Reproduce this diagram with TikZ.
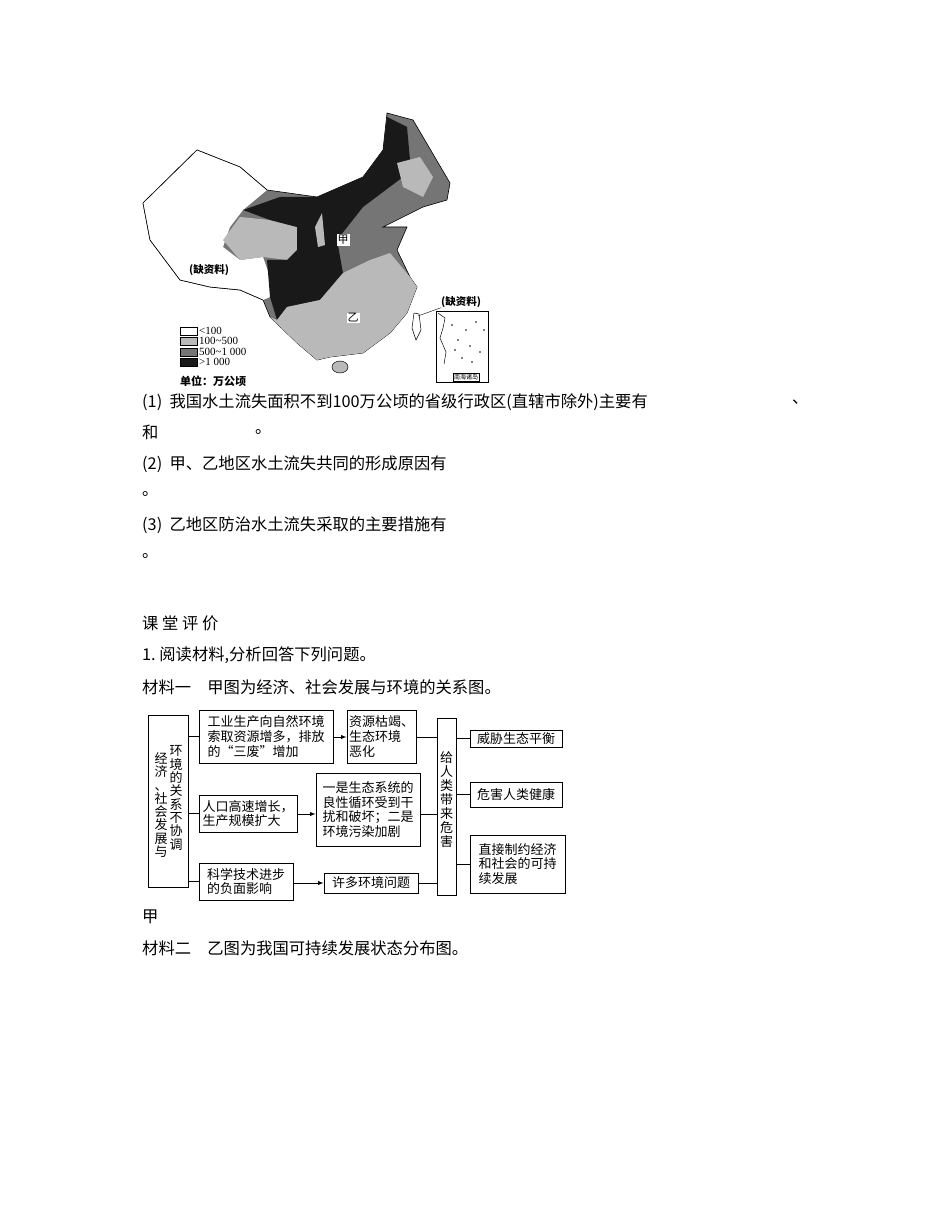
\documentclass[tikz,border=0pt]{standalone}
\usepackage{fontspec}
\setmainfont{Noto Sans CJK SC}
\newfontfamily\lat{Liberation Serif}
\begin{document}
\begin{tikzpicture}[x=1pt,y=-1pt,
 bx/.style={draw,line width=0.9pt,inner sep=0pt,font=\fontsize{13}{14.8}\selectfont},
 ln/.style={line width=0.9pt},
 ar/.style={line width=0.9pt,-latex},
 tx/.style={anchor=west,inner sep=0pt,font=\fontsize{16.3}{17}\selectfont},
 lg/.style={anchor=west,inner sep=0pt,font=\lat\fontsize{11}{11}\selectfont}]
\useasboundingbox[fill=white] (0,0) rectangle (950,1230);
% ---- map ----
\draw[fill=gray!65!black!80,line width=0.6pt] (143,203)--(197,150)--(240,167)--(267,190)--(317,197)--(363,177)--(383,150)--(387,113)--(413,120)--(450,183)--(447,200)--(423,207)--(403,217)--(383,227)--(407,227)--(397,250)--(410,277)--(417,287)--(407,313)--(390,333)--(363,353)--(330,357)--(317,360)--(297,343)--(270,317)--(263,300)--(240,290)--(210,287)--(180,280)--(150,240)--cycle;
\fill[white] (143,203)--(197,150)--(240,167)--(267,190)--(243,210)--(230,227)--(223,247)--(240,260)--(263,257)--(270,277)--(270,297)--(263,300)--(240,290)--(210,287)--(180,280)--(150,240)--cycle;
\draw[line width=0.6pt] (143,203)--(197,150)--(240,167)--(267,190) (263,300)--(240,290)--(210,287)--(180,280)--(150,240)--(143,203);
\fill[gray!55] (223,240)--(240,217)--(270,220)--(297,227)--(297,250)--(287,260)--(263,257)--(240,260)--cycle;
\fill[gray!20!black] (243,210)--(280,197)--(317,197)--(363,177)--(383,150)--(387,117)--(407,127)--(410,160)--(403,177)--(363,207)--(337,240)--(343,273)--(320,300)--(287,307)--(277,320)--(270,297)--(267,260)--(287,260)--(297,250)--(297,227)--(270,220)--cycle;
\fill[gray!55] (277,320)--(287,307)--(320,300)--(343,273)--(370,260)--(390,253)--(410,277)--(417,287)--(407,313)--(390,333)--(363,353)--(330,357)--(317,360)--(297,343)--(270,317)--cycle;
\fill[gray!55] (397,163)--(420,157)--(433,177)--(423,197)--(403,187)--cycle;
\fill[gray!55] (315,227)--(322,213)--(325,245)--(318,247)--cycle;
\draw[fill=gray!55,line width=0.5pt] (340,367) ellipse (8 and 6);
\draw[line width=0.5pt] (414,313)--(419,314)--(421,330)--(416,340)--(412,328)--cycle;
\node[inner sep=1pt,fill=white,font=\fontsize{11}{11}\selectfont] (jia) at (343,240) {甲};
\node[inner sep=1pt,fill=white,font=\fontsize{11}{11}\selectfont] (yi) at (353,318) {乙};
\node[inner sep=0pt,font=\fontsize{10.5}{11}\bfseries\selectfont] (q1) at (209,270) {(缺资料)};
\node[inner sep=0pt,font=\fontsize{10.5}{11}\bfseries\selectfont] (q2) at (461,302) {(缺资料)};
\draw[line width=0.4pt] (q2.south west)--(418,316);
\draw[line width=1pt] (436,311) rectangle (488,382);
\node[draw,inner sep=1pt,font=\fontsize{6}{6}\selectfont] (nh) at (466,377) {南海诸岛};
\draw[line width=0.5pt] (438,313)--(445,318)--(443,328)--(440,338)--(446,352)--(444,364);
\foreach \p in {(452,325),(458,340),(466,330),(470,346),(476,322),(484,330),(480,352),(462,358),(472,362),(455,350)} \fill \p circle (0.8);
\foreach \y/\c/\t in {331/white/{<100},341/gray!55/{100\textasciitilde500},352/gray!65!black!80/{500\textasciitilde1 000},362/gray!20!black/{>1 000}}{
 \draw[fill=\c,line width=0.5pt] (180,\y-4) rectangle (197,\y+4);
 \node[lg] at (199,\y) {\t};}
\node[tx,font=\fontsize{11}{11}\bfseries\selectfont] (unit) at (180,381) {单位：万公顷};
% ---- text ----
\node[tx] (t1) at (142,402) {(1)\ \ 我国水土流失面积不到100万公顷的省级行政区(直辖市除外)主要有};
\node[tx] (t1b) at (792,402) {、};
\node[tx] (t2) at (142,432) {和};
\node[tx] (t2b) at (255,432) {。};
\node[tx] (t3) at (142,464) {(2)\ \ 甲、乙地区水土流失共同的形成原因有};
\node[tx] (t4) at (142,494) {。};
\node[tx] (t5) at (142,525) {(3)\ \ 乙地区防治水土流失采取的主要措施有};
\node[tx] (t6) at (142,556) {。};
\node[tx] (t7) at (142,623) {课\ 堂\ 评\ 价};
\node[tx] (t8) at (142,655) {1.\ 阅读材料,分析回答下列问题。};
\node[tx] (t9) at (142,687) {材料一\quad 甲图为经济、社会发展与环境的关系图。};
\node[tx] (t10) at (142,917) {甲};
\node[tx] (t11) at (142,948) {材料二\quad 乙图为我国可持续发展状态分布图。};
% ---- flowchart ----
\node[bx,minimum width=40,minimum height=172] (L) at (168,801) {};
\node[align=center,inner sep=0pt,font=\fontsize{13}{13.3}\selectfont] (Lc1) at (161,805) {经\\济\\、\\社\\会\\发\\展\\与};
\node[align=center,inner sep=0pt,font=\fontsize{13}{13.3}\selectfont] (Lc2) at (176,798) {环\\境\\的\\关\\系\\不\\协\\调};
\node[bx,minimum width=134,minimum height=53,align=left] (A1) at (266,736.5) {工业生产向自然环境\\索取资源增多，排放\\的“三废”增加};
\node[bx,minimum width=69,minimum height=53,align=left] (A2) at (381.5,736.5) {资源枯竭、\\生态环境\\恶化};
\node[bx,minimum width=98,minimum height=37,align=left] (B1) at (248,813.5) {人口高速增长，\\生产规模扩大};
\node[bx,minimum width=104,minimum height=73,align=left] (B2) at (368,809.5) {一是生态系统的\\良性循环受到干\\扰和破坏；二是\\环境污染加剧};
\node[bx,minimum width=94,minimum height=37,align=left] (C1) at (246,881.5) {科学技术进步\\的负面影响};
\node[bx,minimum width=94,minimum height=20] (C2) at (371,883) {许多环境问题};
\node[bx,minimum width=19,minimum height=177] (M) at (446.5,806.5) {};
\node[align=center,inner sep=0pt,font=\fontsize{13}{14}\selectfont] (Mt) at (446.5,800) {给\\人\\类\\带\\来\\危\\害};
\node[bx,minimum width=92,minimum height=17] (R1) at (516,738.5) {威胁生态平衡};
\node[bx,minimum width=92,minimum height=25] (R2) at (516,794.5) {危害人类健康};
\node[bx,minimum width=95,minimum height=58,align=left] (R3) at (517.5,864) {直接制约经济\\和社会的可持\\续发展};
\draw[ln] (L.east|-A1)--(A1.west);
\draw[ln] (L.east|-B1)--(B1.west);
\draw[ln] (L.east|-C1)--(C1.west);
\draw[ar] (A1.east|-0,737)--(A2.west|-0,737);
\draw[ar] (B1.east|-0,814)--(B2.west|-0,814);
\draw[ar] (C1.east|-0,883)--(C2.west);
\draw[ln] (A2.east|-0,737)--(M.west|-0,737);
\draw[ln] (B2.east|-0,814)--(M.west|-0,814);
\draw[ln] (C2.east)--(M.west|-C2);
\draw[ln] (M.east|-R1)--(R1.west);
\draw[ln] (M.east|-R2)--(R2.west);
\draw[ln] (M.east|-R3)--(R3.west);
\end{tikzpicture}
\end{document}
